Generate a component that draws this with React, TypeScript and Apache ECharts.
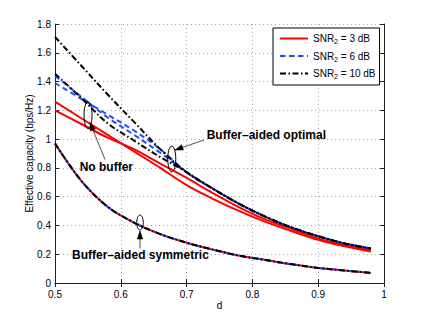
import React, { useEffect, useRef } from "react";
import * as echarts from "echarts";

// distance ratio d
const dValues = [0.5, 0.54, 0.58, 0.62, 0.66, 0.7, 0.74, 0.78, 0.82, 0.86, 0.9, 0.94, 0.98];

// SNR2 = 3 dB (red)
const snr3CurveA = [1.26, 1.145, 1.03, 0.915, 0.8, 0.68, 0.585, 0.5, 0.425, 0.36, 0.3, 0.255, 0.218];
const snr3CurveB = [1.2, 1.105, 1.01, 0.93, 0.83, 0.73, 0.625, 0.525, 0.44, 0.375, 0.31, 0.263, 0.228];
// SNR2 = 6 dB (blue)
const snr6CurveA = [1.44, 1.295, 1.15, 1.03, 0.905, 0.77, 0.655, 0.55, 0.46, 0.385, 0.325, 0.275, 0.24];
const snr6CurveB = [1.39, 1.28, 1.17, 1.06, 0.93, 0.77, 0.655, 0.55, 0.46, 0.385, 0.325, 0.275, 0.24];
// SNR2 = 10 dB (black)
const snr10CurveA = [1.71, 1.51, 1.31, 1.12, 0.93, 0.77, 0.655, 0.55, 0.46, 0.385, 0.325, 0.275, 0.24];
const snr10CurveB = [1.455, 1.285, 1.11, 0.99, 0.875, 0.77, 0.655, 0.55, 0.46, 0.385, 0.325, 0.275, 0.24];
// Buffer-aided symmetric (same for all SNR2)
const symmetricCurve = [0.97, 0.71, 0.53, 0.42, 0.34, 0.28, 0.232, 0.19, 0.16, 0.13, 0.105, 0.087, 0.07];

const legendNames = ["SNR2 = 3 dB", "SNR2 = 6 dB", "SNR2 = 10 dB"];
const legendValues = ["3", "6", "10"];

const xTicks = { min: 0.5, max: 1, interval: 0.1 };
const yTicks = { min: 0, max: 1.8, interval: 0.2 };

// annotations in data coordinates
const annotations = [
  {
    label: "Buffer–aided optimal",
    textAt: [0.7305, 1.03],
    ellipseAt: [0.6775, 0.862],
    rx: 4,
    ry: 13,
    arrowFrom: [0.7264, 0.994],
    arrowTo: [0.6824, 0.924],
  },
  {
    label: "No buffer",
    textAt: [0.5375, 0.803],
    ellipseAt: [0.5502, 1.167],
    rx: 4,
    ry: 13.5,
    arrowFrom: [0.576, 0.858],
    arrowTo: [0.5532, 1.115],
  },
  {
    label: "Buffer–aided symmetric",
    textAt: [0.526, 0.195],
    ellipseAt: [0.6292, 0.42],
    rx: 3.3,
    ry: 7.5,
    arrowFrom: [0.6292, 0.24],
    arrowTo: [0.6292, 0.361],
  },
];

const FONT = '"Liberation Sans", Arial, Helvetica, sans-serif';
const RED = "#ff0000";
const BLUE = "#2050f5";
const BLACK = "#000000";

function pairs(ys: number[]) {
  return dValues.map((d, i) => [d, ys[i]]);
}

function lineSeries(name: string, ys: number[], color: string, type: any) {
  return {
    type: "line",
    name,
    data: pairs(ys),
    smooth: 0.35,
    symbol: "none",
    showSymbol: false,
    xAxisIndex: 0,
    yAxisIndex: 0,
    lineStyle: { color, width: 2, type },
    itemStyle: { color },
  };
}

export default function App() {
  const ref = useRef<HTMLDivElement>(null);

  useEffect(() => {
    const chart = echarts.init(ref.current!, null, { renderer: "svg" });
    const dashed = [5.5, 3.5];
    const dashDot = [6, 2.5, 1.5, 2.5];
    const axisCommon = {
      axisLine: { show: true, lineStyle: { color: "#222", width: 1 } },
      axisTick: { show: true, inside: true, length: 4, lineStyle: { color: "#222" } },
    };
    const option: any = {
      animation: false,
      backgroundColor: "#fff",
      grid: { left: 55, right: 40, top: 24, bottom: 36, containLabel: false },
      legend: {
        left: 273,
        top: 28,
        orient: "vertical",
        data: legendNames,
        borderColor: "#000",
        borderWidth: 1,
        borderRadius: 0,
        backgroundColor: "#fff",
        padding: [4, 4, 5, 6],
        itemWidth: 28,
        itemHeight: 12,
        itemGap: 4.5,
        itemStyle: { opacity: 0 },
        formatter: (name: string) => {
          const i = legendNames.indexOf(name);
          return `{a|SNR}{s|2}{a| = ${legendValues[i]} dB}`;
        },
        textStyle: {
          color: "#000",
          fontFamily: FONT,
          fontSize: 10,
          rich: {
            a: { fontSize: 10, fontFamily: FONT, color: "#000", lineHeight: 12 },
            s: { fontSize: 7, fontFamily: FONT, color: "#000", lineHeight: 12, padding: [6, 0, 0, 0] },
          },
        },
      },
      xAxis: [
        {
          type: "value",
          ...xTicks,
          position: "bottom",
          name: "d",
          nameLocation: "middle",
          nameGap: 17,
          nameMoveOverlap: false,
          nameTextStyle: { fontFamily: FONT, fontSize: 10, color: "#000" },
          ...axisCommon,
          axisLabel: { fontFamily: FONT, fontSize: 10, color: "#000", margin: 6 },
          splitLine: { show: true, lineStyle: { color: "#a8a8a8", type: [1, 3], width: 1 } },
        },
        {
          type: "value",
          ...xTicks,
          position: "top",
          ...axisCommon,
          axisLabel: { show: false },
          splitLine: { show: false },
        },
      ],
      yAxis: [
        {
          type: "value",
          ...yTicks,
          position: "left",
          name: "Effective capacity (bps/Hz)",
          nameLocation: "middle",
          nameGap: 21,
          nameMoveOverlap: false,
          nameTextStyle: { fontFamily: FONT, fontSize: 10, color: "#000" },
          ...axisCommon,
          axisLabel: { fontFamily: FONT, fontSize: 10, color: "#000", margin: 4 },
          splitLine: { show: true, lineStyle: { color: "#a8a8a8", type: [1, 3], width: 1 } },
        },
        {
          type: "value",
          ...yTicks,
          position: "right",
          ...axisCommon,
          axisLabel: { show: false },
          splitLine: { show: false },
        },
      ],
      series: [
        lineSeries(legendNames[0], snr3CurveA, RED, "solid"),
        lineSeries(legendNames[0], snr3CurveB, RED, "solid"),
        lineSeries(legendNames[0], symmetricCurve, RED, "solid"),
        lineSeries(legendNames[1], snr6CurveA, BLUE, dashed),
        lineSeries(legendNames[1], snr6CurveB, BLUE, dashed),
        lineSeries(legendNames[1], symmetricCurve, BLUE, dashed),
        lineSeries(legendNames[2], snr10CurveA, BLACK, dashDot),
        lineSeries(legendNames[2], snr10CurveB, BLACK, dashDot),
        lineSeries(legendNames[2], symmetricCurve, BLACK, dashDot),
      ],
    };
    chart.setOption(option);

    const toPx = (p: number[]) =>
      chart.convertToPixel({ xAxisIndex: 0, yAxisIndex: 0 } as any, p) as unknown as number[];
    const elements: any[] = [];
    annotations.forEach((a) => {
      const c = toPx(a.ellipseAt);
      elements.push({
        type: "ellipse",
        shape: { cx: c[0], cy: c[1], rx: a.rx, ry: a.ry },
        style: { fill: "none", stroke: "#000", lineWidth: 1 },
        z: 100,
      });
      const f = toPx(a.arrowFrom);
      const t = toPx(a.arrowTo);
      elements.push({
        type: "line",
        shape: { x1: f[0], y1: f[1], x2: t[0], y2: t[1] },
        style: { stroke: "#222", lineWidth: 0.8 },
        z: 100,
      });
      const ang = Math.atan2(t[1] - f[1], t[0] - f[0]);
      const L = 8;
      const W = 2.8;
      const bx = t[0] - L * Math.cos(ang);
      const by = t[1] - L * Math.sin(ang);
      elements.push({
        type: "polygon",
        shape: {
          points: [
            [t[0], t[1]],
            [bx + W * Math.sin(ang), by - W * Math.cos(ang)],
            [bx - W * Math.sin(ang), by + W * Math.cos(ang)],
          ],
        },
        style: { fill: "#000", stroke: "#000", lineWidth: 0.5 },
        z: 100,
      });
      const tp = toPx(a.textAt);
      elements.push({
        type: "text",
        x: tp[0],
        y: tp[1],
        style: {
          text: a.label,
          fontFamily: FONT,
          fontSize: 12,
          fontWeight: "bold",
          fill: "#000",
          align: "left",
          verticalAlign: "middle",
        },
        z: 100,
      });
    });
    chart.setOption({ graphic: elements });

    return () => chart.dispose();
  }, []);

  return (
    <div
      ref={ref}
      style={{ position: "absolute", left: 0, top: 0, width: 424, height: 319, background: "#fff" }}
    />
  );
}
